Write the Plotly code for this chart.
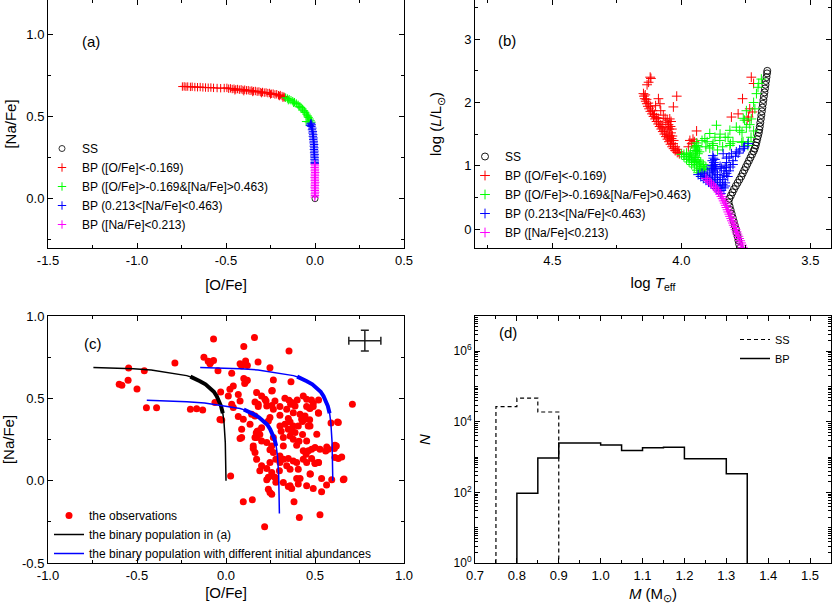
import plotly.graph_objects as go

FONT = "Liberation Sans, Arial, sans-serif"

# ---------------- Panel (a) data ----------------
a_ss_o = [0.0]
a_ss_na = [0.0]
a_red_o = [-0.745, -0.735, -0.725, -0.715, -0.70, -0.69, -0.675, -0.66, -0.645, -0.63, -0.615, -0.60, -0.585,
           -0.57, -0.55, -0.53, -0.51, -0.495, -0.485, -0.475, -0.465, -0.455, -0.445, -0.435, -0.425, -0.415,
           -0.405, -0.395, -0.385, -0.375, -0.365, -0.355, -0.345, -0.335, -0.325, -0.315, -0.305, -0.295,
           -0.285, -0.275, -0.265, -0.255, -0.245, -0.235, -0.225, -0.215, -0.205, -0.195, -0.185, -0.175,
           -0.17, -0.45, -0.40, -0.35, -0.30, -0.25, -0.20, -0.18]
a_red_na = [0.683, 0.684, 0.682, 0.683, 0.681, 0.682, 0.680, 0.679, 0.680, 0.678, 0.677, 0.676, 0.677,
            0.675, 0.674, 0.673, 0.674, 0.675, 0.670, 0.672, 0.668, 0.670, 0.666, 0.668, 0.664, 0.666,
            0.662, 0.664, 0.660, 0.661, 0.657, 0.659, 0.655, 0.656, 0.652, 0.653, 0.649, 0.650,
            0.646, 0.647, 0.643, 0.644, 0.639, 0.640, 0.635, 0.636, 0.630, 0.631, 0.625, 0.622,
            0.617, 0.660, 0.655, 0.650, 0.643, 0.635, 0.625, 0.615]
a_green_o = [-0.165, -0.155, -0.145, -0.135, -0.125, -0.115, -0.105, -0.095, -0.085, -0.078, -0.07, -0.062,
             -0.055, -0.048, -0.042, -0.036, -0.030, -0.025, -0.020, -0.15, -0.12, -0.09, -0.06, -0.04,
             -0.05, -0.035]
a_green_na = [0.615, 0.610, 0.606, 0.600, 0.594, 0.588, 0.580, 0.572, 0.563, 0.555, 0.546, 0.536,
              0.526, 0.515, 0.505, 0.495, 0.485, 0.475, 0.466, 0.600, 0.584, 0.560, 0.528, 0.498,
              0.470, 0.468]
a_blue_o = [-0.022, -0.018, -0.020, -0.015, -0.017, -0.012, -0.014, -0.010, -0.012, -0.008, -0.010, -0.007,
            -0.008, -0.005, -0.007, -0.004, -0.006, -0.003, -0.005, -0.002, -0.004, -0.002, -0.003, -0.001,
            -0.002, -0.001, -0.025, -0.028]
a_blue_na = [0.460, 0.450, 0.440, 0.430, 0.420, 0.410, 0.400, 0.390, 0.380, 0.370, 0.360, 0.350,
             0.340, 0.330, 0.320, 0.310, 0.300, 0.290, 0.280, 0.270, 0.260, 0.250, 0.240, 0.230,
             0.220, 0.215, 0.455, 0.445]
a_mag_o = [-0.002, 0.000, -0.002, 0.000, -0.001, 0.001, -0.001, 0.000, -0.002, 0.000, -0.001, 0.001,
           -0.001, 0.000, -0.002, 0.000, -0.001, 0.001, -0.001, 0.000, -0.001]
a_mag_na = [0.210, 0.200, 0.190, 0.180, 0.170, 0.160, 0.150, 0.140, 0.130, 0.120, 0.110, 0.100,
            0.090, 0.080, 0.070, 0.060, 0.050, 0.040, 0.030, 0.020, 0.010]

# ---------------- Panel (b) data ----------------
b_ss_t = [3.773, 3.776, 3.779, 3.782, 3.786, 3.789, 3.793, 3.797, 3.801, 3.805, 3.809, 3.813, 3.817,
          3.814, 3.808, 3.802, 3.796, 3.789, 3.782, 3.775, 3.768, 3.762, 3.756, 3.750, 3.744, 3.738,
          3.732, 3.726, 3.720, 3.716, 3.712, 3.709, 3.706, 3.703, 3.700, 3.698, 3.696, 3.694, 3.692,
          3.690, 3.688, 3.686, 3.684, 3.682, 3.680, 3.678, 3.676, 3.674, 3.672, 3.670, 3.668, 3.667]
b_ss_l = [-0.30, -0.24, -0.18, -0.12, -0.06, 0.00, 0.06, 0.12, 0.18, 0.24, 0.30, 0.36, 0.42,
          0.48, 0.53, 0.58, 0.63, 0.68, 0.73, 0.78, 0.83, 0.88, 0.93, 0.98, 1.03, 1.08,
          1.13, 1.18, 1.23, 1.27, 1.32, 1.37, 1.42, 1.47, 1.52, 1.57, 1.62, 1.68, 1.74,
          1.80, 1.86, 1.92, 1.98, 2.04, 2.10, 2.16, 2.22, 2.28, 2.34, 2.40, 2.46, 2.50]

b_red_t = [4.147, 4.145, 4.142, 4.138, 4.134, 4.130, 4.125, 4.120, 4.114, 4.108, 4.102, 4.096, 4.090,
           4.084, 4.078, 4.072, 4.066, 4.060, 4.054, 4.048, 4.042, 4.036, 4.030, 4.024, 4.016, 4.008,
           4.140, 4.135, 4.128, 4.120, 4.112, 4.104, 4.096, 4.088, 4.080, 4.072, 4.064, 4.056, 4.048,
           4.040, 4.032, 4.024, 4.016, 4.010,
           4.063, 4.055, 4.045, 4.040, 4.050, 4.042, 4.037, 4.047, 4.040, 4.035, 4.045, 4.038, 4.060,
           4.052, 4.030,
           4.121, 4.127, 4.133, 4.118, 4.089, 4.083, 4.031, 4.018, 4.080, 3.941, 3.967, 3.973, 3.960,
           3.955, 3.950, 3.729, 3.720, 3.763, 3.806, 3.780, 3.740, 3.735, 3.725, 3.745, 4.100, 4.070,
           4.090]
b_red_l = [2.14, 2.10, 2.06, 2.02, 1.98, 1.94, 1.90, 1.86, 1.82, 1.78, 1.74, 1.70, 1.66,
           1.62, 1.58, 1.54, 1.50, 1.46, 1.42, 1.38, 1.34, 1.30, 1.27, 1.24, 1.21, 1.19,
           2.12, 2.05, 1.99, 1.93, 1.87, 1.81, 1.76, 1.70, 1.65, 1.60, 1.55, 1.50, 1.45,
           1.40, 1.35, 1.30, 1.26, 1.22,
           1.75, 1.72, 1.74, 1.70, 1.65, 1.62, 1.58, 1.58, 1.52, 1.47, 1.48, 1.43, 1.68,
           1.60, 1.40,
           2.40, 2.32, 2.28, 2.38, 2.06, 1.98, 1.93, 2.10, 1.87, 1.55, 1.40, 1.30, 1.35,
           1.42, 1.38, 2.40, 2.30, 2.06, 1.77, 1.82, 1.77, 1.90, 1.85, 1.72, 1.95, 1.80,
           1.75]

b_green_t = [4.00, 3.99, 3.98, 3.97, 3.96, 3.95, 3.94, 3.935,
             3.99, 3.98, 3.97, 3.96, 3.95, 3.94, 3.93, 3.925, 3.98, 3.97, 3.96, 3.95, 3.94, 3.93, 3.92,
             3.915, 3.965, 3.955, 3.945, 3.935, 3.925, 3.915, 3.905, 3.91,
             3.942, 3.940, 3.944, 3.938, 3.942, 3.936, 3.946, 3.935, 3.950, 3.930,
             3.787, 3.774, 3.748, 3.729, 3.709, 3.703, 3.748, 3.890, 3.864, 3.812, 3.877, 3.851, 3.909,
             3.819, 3.800, 3.761, 3.742, 3.700, 3.690, 3.760, 3.755, 3.830, 3.810, 3.812, 3.766, 3.740,
             3.765, 3.870, 3.850, 3.900, 3.920, 3.905, 3.890, 3.880, 3.860, 3.840, 3.730, 3.720, 3.735,
             3.715, 3.720]
b_green_l = [1.18, 1.14, 1.10, 1.06, 1.02, 0.98, 0.93, 0.89,
             1.18, 1.15, 1.12, 1.08, 1.05, 1.01, 0.96, 0.92, 1.20, 1.17, 1.14, 1.10, 1.07, 1.03, 0.99,
             0.95, 1.20, 1.17, 1.13, 1.09, 1.06, 1.02, 0.98, 0.94,
             1.36, 1.32, 1.28, 1.25, 1.22, 1.19, 1.24, 1.30, 1.30, 1.22,
             1.61, 1.56, 1.61, 1.74, 2.14, 2.24, 1.87, 1.51, 1.64, 1.56, 1.35, 1.40, 1.43,
             1.45, 1.38, 1.38, 1.32, 2.30, 2.37, 1.75, 1.72, 1.45, 1.35, 1.32, 1.37, 1.38,
             1.53, 1.45, 1.50, 1.38, 1.40, 1.30, 1.28, 1.32, 1.25, 1.30, 1.45, 1.55, 1.65,
             1.90, 2.00]

b_blue_t = [3.935, 3.925, 3.915, 3.905, 3.895, 3.885, 3.875, 3.865, 3.855, 3.847,
            3.920, 3.910, 3.900, 3.890, 3.880, 3.870, 3.860, 3.850, 3.845, 3.900, 3.890, 3.880, 3.870,
            3.860, 3.850, 3.840, 3.835, 3.880, 3.870, 3.860, 3.850, 3.840, 3.830, 3.830,
            3.878, 3.876, 3.880, 3.874, 3.878, 3.872, 3.876, 3.868, 3.884, 3.866, 3.882, 3.870,
            3.825, 3.835, 3.845, 3.830, 3.815, 3.820, 3.835, 3.810, 3.800, 3.825,
            3.850, 3.838, 3.825, 3.806, 3.787, 3.774, 3.755, 3.742, 3.825, 3.800, 3.790, 3.815, 3.760,
            3.780]
b_blue_l = [0.86, 0.83, 0.80, 0.77, 0.74, 0.71, 0.68, 0.64, 0.60, 0.56,
            0.88, 0.85, 0.82, 0.79, 0.76, 0.73, 0.69, 0.65, 0.61, 0.90, 0.87, 0.84, 0.81,
            0.78, 0.74, 0.70, 0.65, 0.93, 0.90, 0.86, 0.82, 0.78, 0.73, 0.68,
            1.16, 1.12, 1.08, 1.05, 1.01, 0.98, 0.95, 1.02, 1.00, 0.95, 0.96, 1.10,
            0.88, 0.92, 0.96, 0.97, 0.92, 0.83, 0.85, 0.98, 1.02, 1.01,
            0.99, 1.19, 1.12, 1.19, 1.22, 1.25, 1.30, 1.35, 1.05, 1.08, 1.15, 1.14, 1.27,
            1.20]

b_mag_t = [3.905, 3.890, 3.875, 3.862, 3.850, 3.840, 3.832, 3.825, 3.818, 3.811, 3.804, 3.797, 3.790,
           3.783, 3.776, 3.769, 3.762,
           3.898, 3.883, 3.868, 3.856, 3.845, 3.836, 3.828, 3.821, 3.814, 3.807, 3.800, 3.793, 3.786,
           3.779, 3.772, 3.765]
b_mag_l = [0.80, 0.74, 0.68, 0.62, 0.55, 0.48, 0.41, 0.34, 0.27, 0.20, 0.13, 0.06, -0.01,
           -0.08, -0.15, -0.22, -0.29,
           0.77, 0.71, 0.65, 0.585, 0.515, 0.445, 0.375, 0.305, 0.235, 0.165, 0.095, 0.025, -0.045,
           -0.115, -0.185, -0.255]

# ---------------- Panel (c) data ----------------
c_obs_o = [-0.07, 0.16, 0.10, 0.354, -0.124, -0.09, -0.085, -0.07, -0.10,
           -0.287, -0.045, -0.547, -0.459, -0.60, -0.585, -0.55, -0.50, -0.447, -0.39, -0.20, -0.165,
           -0.131, -0.034,
           0.079, 0.11, 0.12, 0.18, 0.247, 0.032, 0.10, 0.11, 0.12, 0.105, 0.266, 0.365, 0.041, 0.022,
           -0.03, 0.069, 0.013, 0.257, 0.172, 0.2, 0.219, 0.163, 0.181, 0.079, 0.331, 0.354, 0.369,
           0.388, 0.434, 0.453, 0.275, 0.229, 0.303, 0.341, 0.378, 0.453, 0.468, 0.519, 0.71, 0.041,
           0.032, -0.062, 0.247, 0.238, 0.303, 0.35, 0.36, 0.331, 0.378, 0.35, 0.369, 0.416, 0.444,
           0.462, 0.406, 0.303, 0.135, 0.069, -0.024, 0.631, 0.181, 0.088, 0.172, 0.266, 0.322, 0.2,
           0.079, 0.17, 0.19, 0.175, 0.2, 0.257, 0.247, 0.266, 0.322, 0.378, 0.397, 0.36, 0.388, 0.153,
           0.163, 0.172, 0.434, 0.481, 0.5, 0.528, 0.575, 0.612, 0.65, 0.303, 0.322, 0.35, 0.378,
           0.397, 0.434, 0.453, 0.481, 0.5, 0.519, 0.247, 0.229, 0.257, 0.238, 0.275, 0.229, 0.303,
           0.341, 0.36, 0.406, 0.472, 0.397, 0.416, 0.406, 0.537, 0.594, 0.659, 0.565, 0.537, 0.49,
           0.322, 0.35, 0.369, 0.36, 0.453, 0.238, 0.257, 0.247, 0.097, 0.148, 0.382, 0.026, 0.412,
           0.528, 0.217,
           0.627, 0.609, 0.463, 0.52, 0.50, 0.474, 0.663, 0.631, 0.48, 0.49, 0.52, 0.49, 0.52, 0.47,
           0.40, 0.43, 0.31, 0.28, 0.30, 0.26, 0.28, 0.20, 0.19, 0.41, 0.43, 0.45, 0.56, 0.59, 0.62,
           0.088, 0.225, 0.26, 0.363, 0.472, 0.425, 0.444, 0.257, 0.266, 0.144, 0.163, 0.181, 0.097,
           0.088, 0.163, 0.153, 0.472, 0.229, 0.51, 0.453, 0.612, 0.566]
c_obs_na = [0.86, 0.87, 0.815, 0.787, 0.75, 0.71, 0.72, 0.73, 0.725,
            0.714, 0.668, 0.684, 0.668, 0.585, 0.58, 0.61, 0.557, 0.443, 0.443, 0.433, 0.437,
            0.429, 0.372,
            0.71, 0.726, 0.70, 0.72, 0.686, 0.652, 0.62, 0.60, 0.61, 0.59, 0.611, 0.601, 0.575, 0.555,
            0.538, 0.524, 0.514, 0.544, 0.535, 0.514, 0.494, 0.478, 0.464, 0.484, 0.5, 0.488, 0.474,
            0.453, 0.514, 0.494, 0.484, 0.453, 0.45, 0.433, 0.413, 0.45, 0.441, 0.413, 0.464, 0.444,
            0.464, 0.474, 0.383, 0.362, 0.397, 0.377, 0.356, 0.342, 0.332, 0.312, 0.302, 0.403, 0.373,
            0.332, 0.332, 0.332, 0.342, 0.389, 0.368, 0.353, 0.302, 0.262, 0.262, 0.262, 0.262, 0.322,
            0.256, 0.29, 0.28, 0.30, 0.241, 0.211, 0.187, 0.171, 0.211, 0.251, 0.215, 0.272, 0.292, 0.195,
            0.171, 0.13, 0.181, 0.191, 0.201, 0.191, 0.191, 0.141, 0.144, 0.15, 0.13, 0.134, 0.12,
            0.11, 0.13, 0.11, 0.134, 0.104, 0.11, 0.11, 0.074, 0.05, 0.02, 0.02, 0.005, 0.11,
            0.09, 0.07, 0.07, 0.04, 0.013, 0.013, -0.021, 0.013, 0.005, 0.005, -0.027, -0.068, -0.047,
            -0.011, -0.035, -0.047, -0.031, -0.031, -0.052, -0.082, -0.072, -0.128, -0.116, -0.128, 0.029, -0.223,
            -0.207, -0.28,
            0.356, 0.195, 0.181, 0.11, 0.107, 0.04, 0.01, 0.135, 0.49, 0.47, 0.49, 0.45, 0.41, 0.37,
            0.49, 0.36, 0.30, 0.13, 0.06, 0.03, -0.01, 0.09, 0.06, 0.24, 0.28, 0.16, 0.18, 0.35, 0.21,
            0.696, 0.484, 0.548, 0.464, 0.438, 0.373, 0.393, 0.457, 0.433, 0.403, 0.393, 0.45, 0.373,
            0.312, 0.262, 0.211, 0.332, 0.232, 0.282, 0.241, 0.215, 0.205]

c_bp_o = [-0.745, -0.62, -0.52, -0.42, -0.333, -0.27, -0.221, -0.18, -0.146, -0.115, -0.09, -0.068,
          -0.052, -0.038, -0.028, -0.018, -0.011, -0.006, -0.004, -0.002, 0.0]
c_bp_na = [0.688, 0.685, 0.680, 0.672, 0.658, 0.648, 0.638, 0.624, 0.604, 0.585, 0.563, 0.540,
           0.513, 0.485, 0.453, 0.410, 0.352, 0.290, 0.231, 0.120, 0.0]
c_bp_band_o = [-0.20, -0.17, -0.146, -0.115, -0.09, -0.068, -0.052, -0.038, -0.028, -0.018]
c_bp_band_na = [0.632, 0.618, 0.604, 0.585, 0.563, 0.540, 0.513, 0.485, 0.453, 0.410]

c_up_o = [-0.145, -0.02, 0.08, 0.18, 0.267, 0.33, 0.379, 0.42, 0.454, 0.485, 0.51, 0.532,
          0.548, 0.562, 0.572, 0.582, 0.589, 0.594, 0.596, 0.598, 0.60]
c_up_na = [0.688, 0.685, 0.680, 0.672, 0.658, 0.648, 0.638, 0.624, 0.604, 0.585, 0.563, 0.540,
           0.513, 0.485, 0.453, 0.410, 0.352, 0.290, 0.231, 0.120, 0.0]
c_up_band_o = [0.40, 0.43, 0.454, 0.485, 0.51, 0.532, 0.548, 0.562, 0.572, 0.582]
c_up_band_na = [0.632, 0.618, 0.604, 0.585, 0.563, 0.540, 0.513, 0.485, 0.453, 0.410]

c_lo_o = [-0.445, -0.32, -0.22, -0.12, -0.033, 0.03, 0.079, 0.12, 0.154, 0.185, 0.21, 0.232,
          0.248, 0.262, 0.272, 0.282, 0.289, 0.294, 0.296, 0.298, 0.30]
c_lo_na = [0.488, 0.485, 0.480, 0.472, 0.458, 0.448, 0.438, 0.424, 0.404, 0.385, 0.363, 0.340,
           0.313, 0.285, 0.253, 0.210, 0.152, 0.090, 0.031, -0.080, -0.20]
c_lo_band_o = [0.10, 0.13, 0.154, 0.185, 0.21, 0.232, 0.248, 0.262, 0.272, 0.282]
c_lo_band_na = [0.432, 0.418, 0.404, 0.385, 0.363, 0.340, 0.313, 0.285, 0.253, 0.210]

c_err_o = [0.78]
c_err_na = [0.85]
c_err_dx = [0.09]
c_err_dy = [0.063]

# ---------------- Panel (d) data ----------------
d_ss_edges = [0.75, 0.80, 0.85, 0.90]
d_ss_counts = [27000, 47000, 19000]
d_bp_edges = [0.80, 0.85, 0.90, 1.00, 1.05, 1.10, 1.15, 1.20, 1.30, 1.35]
d_bp_counts = [95, 950, 2500, 2200, 1550, 1850, 1900, 900, 340]

# ---------------- tick labels ----------------
a_xticks = [-1.5, -1.0, -0.5, 0.0, 0.5]
a_xtext = ["-1.5", "-1.0", "-0.5", "0.0", "0.5"]
a_yticks = [0.0, 0.5, 1.0]
a_ytext = ["0.0", "0.5", "1.0"]
b_xticks = [4.5, 4.0, 3.5]
b_xtext = ["4.5", "4.0", "3.5"]
b_yticks = [0, 1, 2, 3]
b_ytext = ["0", "1", "2", "3"]
c_xticks = [-1.0, -0.5, 0.0, 0.5, 1.0]
c_xtext = ["-1.0", "-0.5", "0.0", "0.5", "1.0"]
c_yticks = [-0.5, 0.0, 0.5, 1.0]
c_ytext = ["-0.5", "0.0", "0.5", "1.0"]
d_xticks = [0.7, 0.8, 0.9, 1.0, 1.1, 1.2, 1.3, 1.4, 1.5]
d_xtext = ["0.7", "0.8", "0.9", "1.0", "1.1", "1.2", "1.3", "1.4", "1.5"]
d_yticks = [1, 1e2, 1e4, 1e6]
d_ytext = ["10<sup>0</sup>", "10<sup>2</sup>", "10<sup>4</sup>", "10<sup>6</sup>"]


def step_xy(edges, counts):
    xs, ys = [edges[0]], [1]
    for i, c in enumerate(counts):
        xs += [edges[i], edges[i + 1]]
        ys += [c, c]
    xs.append(edges[-1])
    ys.append(1)
    return xs, ys


# ---------------- layout geometry (pixels) ----------------
W, H = 832, 615
ML, MR, MT, MB = 48, 1, 0, 52
PW, PH = W - ML - MR, H - MT - MB


def px(x):
    return (x - ML) / PW


def py(y):
    return (H - MB - y) / PH


fig = go.Figure()


def plus(x, y, color, name, xa, ya, leg, size=6):
    fig.add_trace(go.Scatter(x=x, y=y, mode="markers", name=name, xaxis=xa, yaxis=ya, legend=leg,
                             marker=dict(symbol="cross-thin", size=size, color=color,
                                         line=dict(width=1, color=color))))


# (a)
fig.add_trace(go.Scatter(x=a_ss_o, y=a_ss_na, mode="markers", name="SS", xaxis="x", yaxis="y",
                         legend="legend",
                         marker=dict(symbol="circle-open", size=6, color="black", line=dict(width=0.8))))
plus(a_red_o, a_red_na, "#ff0000", "BP ([O/Fe]<-0.169)", "x", "y", "legend")
plus(a_green_o, a_green_na, "#00ff00", "BP ([O/Fe]>-0.169&[Na/Fe]>0.463)", "x", "y", "legend")
plus(a_blue_o, a_blue_na, "#0000ff", "BP (0.213<[Na/Fe]<0.463)", "x", "y", "legend")
plus(a_mag_o, a_mag_na, "#ff00ff", "BP ([Na/Fe]<0.213)", "x", "y", "legend")

# (b)
fig.add_trace(go.Scatter(x=b_ss_t, y=b_ss_l, mode="markers", name="SS", xaxis="x2", yaxis="y2",
                         legend="legend2",
                         marker=dict(symbol="circle-open", size=7, color="black", line=dict(width=0.9))))
plus(b_red_t, b_red_l, "#ff0000", "BP ([O/Fe]<-0.169)", "x2", "y2", "legend2", 7)
plus(b_green_t, b_green_l, "#00ff00", "BP ([O/Fe]>-0.169&[Na/Fe]>0.463)", "x2", "y2", "legend2", 7)
plus(b_blue_t, b_blue_l, "#0000ff", "BP (0.213<[Na/Fe]<0.463)", "x2", "y2", "legend2", 7)
plus(b_mag_t, b_mag_l, "#ff00ff", "BP ([Na/Fe]<0.213)", "x2", "y2", "legend2", 7)

# (c)
fig.add_trace(go.Scatter(x=c_obs_o, y=c_obs_na, mode="markers", name="the observations",
                         xaxis="x3", yaxis="y3", legend="legend3",
                         marker=dict(symbol="circle", size=7, color="#ff0000")))
fig.add_trace(go.Scatter(x=c_bp_o, y=c_bp_na, mode="lines", name="the binary population in (a)",
                         xaxis="x3", yaxis="y3", legend="legend3",
                         line=dict(color="black", width=1.5)))
fig.add_trace(go.Scatter(x=c_bp_band_o, y=c_bp_band_na, mode="lines", showlegend=False,
                         xaxis="x3", yaxis="y3", line=dict(color="black", width=4)))
fig.add_trace(go.Scatter(x=c_up_o, y=c_up_na, mode="lines",
                         name="the binary population with different initial abundances",
                         xaxis="x3", yaxis="y3", legend="legend3",
                         line=dict(color="#0000ff", width=1.5)))
fig.add_trace(go.Scatter(x=c_up_band_o, y=c_up_band_na, mode="lines", showlegend=False,
                         xaxis="x3", yaxis="y3", line=dict(color="#0000ff", width=4)))
fig.add_trace(go.Scatter(x=c_lo_o, y=c_lo_na, mode="lines", showlegend=False,
                         xaxis="x3", yaxis="y3", line=dict(color="#0000ff", width=1.5)))
fig.add_trace(go.Scatter(x=c_lo_band_o, y=c_lo_band_na, mode="lines", showlegend=False,
                         xaxis="x3", yaxis="y3", line=dict(color="#0000ff", width=4)))
fig.add_trace(go.Scatter(x=c_err_o, y=c_err_na, mode="markers", showlegend=False,
                         xaxis="x3", yaxis="y3", marker=dict(size=1, color="black"),
                         error_x=dict(type="data", array=c_err_dx, color="#222", thickness=1.5, width=4),
                         error_y=dict(type="data", array=c_err_dy, color="#222", thickness=1.5, width=4)))

# (d)
sx, sy = step_xy(d_ss_edges, d_ss_counts)
fig.add_trace(go.Scatter(x=sx, y=sy, mode="lines", name="SS", xaxis="x4", yaxis="y4", legend="legend4",
                         line=dict(color="black", width=1.2, dash="4px,3px")))
bx, by = step_xy(d_bp_edges, d_bp_counts)
fig.add_trace(go.Scatter(x=bx, y=by, mode="lines", name="BP", xaxis="x4", yaxis="y4", legend="legend4",
                         line=dict(color="black", width=1.5)))

XA = [px(48), px(404)]
XB = [px(475), px(831)]
YT = [py(248), 1.0]
YB = [py(563), py(316)]

tickfont = dict(family=FONT, size=13, color="black")
titlefont = dict(family=FONT, size=15, color="black")


def ax(domain, anchor, rng, tickvals, ticktext, minor_dtick, title, standoff, **kw):
    d = dict(domain=domain, anchor=anchor, range=rng, showline=True, mirror="ticks",
             linecolor="black", linewidth=1, ticks="inside", ticklen=5, tickwidth=1,
             tickcolor="black", showgrid=False, zeroline=False, tickfont=tickfont,
             tickmode="array", tickvals=tickvals, ticktext=ticktext, automargin=False,
             minor=dict(ticks="inside", ticklen=3, tickcolor="black", dtick=minor_dtick,
                        tick0=0, showgrid=False),
             title=dict(text=title, font=titlefont, standoff=standoff))
    d.update(kw)
    return d


def legend_at(x, y, size=12):
    return dict(x=px(x), y=py(y), xanchor="left", yanchor="top", bgcolor="rgba(0,0,0,0)",
                font=dict(family=FONT, size=size), tracegroupgap=0)


def label(text, x, y):
    return dict(text=text, x=px(x), y=py(y), xref="paper", yref="paper", showarrow=False,
                font=dict(family=FONT, size=15))


layout = dict(
    width=W, height=H, margin=dict(l=ML, r=MR, t=MT, b=MB, autoexpand=False),
    paper_bgcolor="white", plot_bgcolor="white",
    font=dict(family=FONT, color="black"),
    xaxis=ax(XA, "y", [-1.5, 0.5], a_xticks, a_xtext, 0.25, "[O/Fe]", 12),
    yaxis=ax(YT, "x", [-0.3, 1.21], a_yticks, a_ytext, 0.25, "[Na/Fe]", 6),
    xaxis2=ax(XB, "y2", [4.8, 3.42], b_xticks, b_xtext, 0.25, "log <i>T</i><sub>eff</sub>", 10),
    yaxis2=ax(YT, "x2", [-0.3, 3.62], b_yticks, b_ytext, 0.5, "log (<i>L</i>/L<sub>⊙</sub>)", 18),
    xaxis3=ax(XA, "y3", [-1.0, 1.0], c_xticks, c_xtext, 0.25, "[O/Fe]", 5),
    yaxis3=ax(YB, "x3", [-0.5, 1.0], c_yticks, c_ytext, 0.25, "[Na/Fe]", 6),
    xaxis4=ax(XB, "y4", [0.7, 1.55], d_xticks, d_xtext, 0.05, "<i>M</i> (M<sub>⊙</sub>)", 6),
    yaxis4=dict(domain=YB, anchor="x4", type="log", range=[0, 7], showline=True, mirror="ticks",
                linecolor="black", linewidth=1, ticks="inside", ticklen=5, tickwidth=1,
                tickcolor="black", showgrid=False, zeroline=False, tickfont=dict(family=FONT, size=12),
                tickmode="array", tickvals=d_yticks, ticktext=d_ytext, automargin=False,
                minor=dict(ticks="inside", ticklen=3, tickcolor="black", showgrid=False,
                           tickvals=[m * 10 ** k for k in range(0, 7) for m in range(2, 11)]),
                title=dict(text="<i>N</i>", font=titlefont, standoff=19)),
    legend=legend_at(42, 134),
    legend2=legend_at(465, 142),
    legend3=legend_at(49, 501),
    legend4=legend_at(735, 325, 11),
    annotations=[
        label("(a)", 80, 31),
        label("(b)", 507, 30),
        label("(c)", 82, 343),
        label("(d)", 508, 333),
    ],
)
fig.update_layout(**layout)
fig.write_html(
    "out.html",
    config={"displayModeBar": False},
    post_script="document.body.style.margin='0';document.body.style.padding='0';"
                "document.body.style.overflow='hidden';document.documentElement.style.overflow='hidden';",
)
